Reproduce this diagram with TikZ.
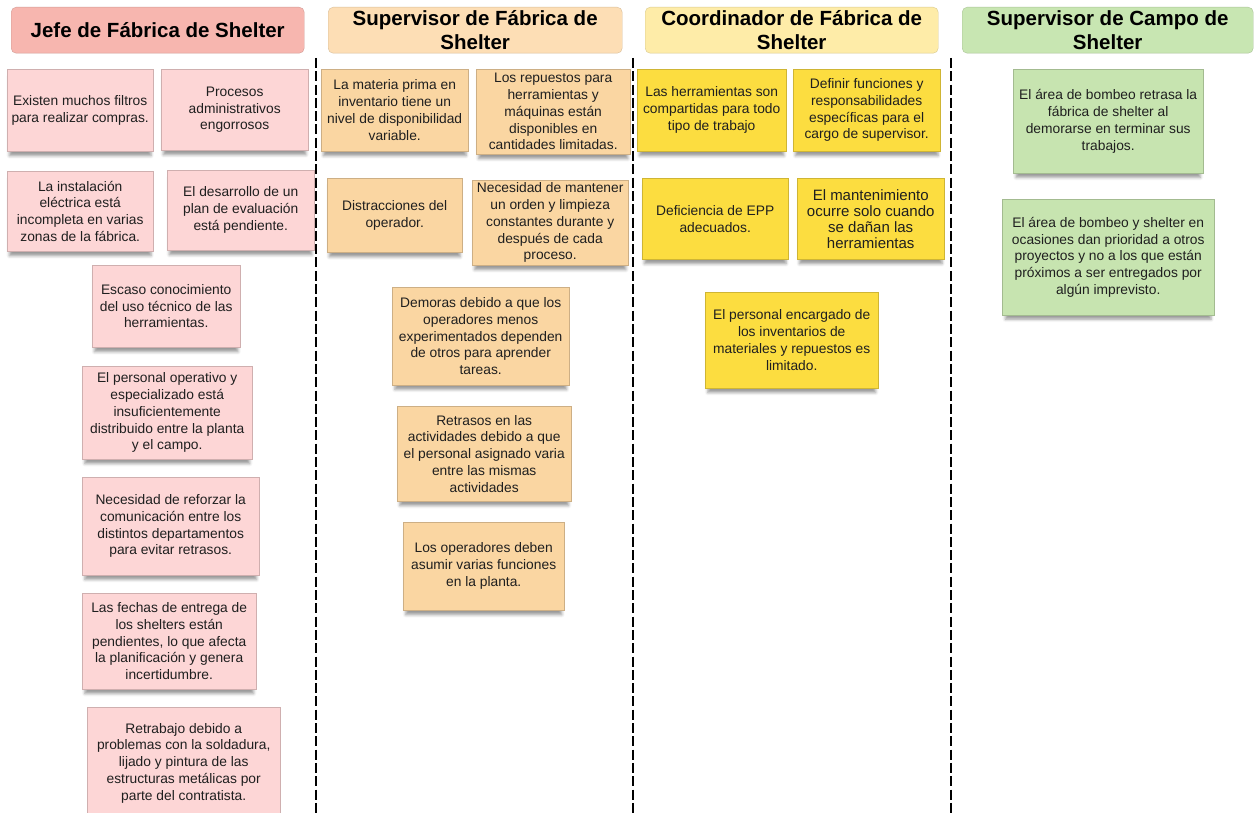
\documentclass[tikz,border=0pt]{standalone}
\usepackage{fontspec}
\setmainfont{Liberation Sans}
\usetikzlibrary{shadows.blur}

\definecolor{jefehead}{RGB}{247,182,175}
\definecolor{jefenote}{RGB}{253,214,214}
\definecolor{suphead}{RGB}{253,222,181}
\definecolor{supnote}{RGB}{250,214,162}
\definecolor{coorhead}{RGB}{254,236,168}
\definecolor{coornote}{RGB}{252,221,64}
\definecolor{campohead}{RGB}{200,230,178}
\definecolor{camponote}{RGB}{199,228,176}

\tikzset{
  sticky/.style={draw=#1!82!black, line width=0.4pt, fill=#1, anchor=north
    west, inner sep=0pt, align=center, text=black!88,
    font=\fontsize{13.8}{16.8}\selectfont, blur shadow={shadow xshift=0pt,
      shadow yshift=-6pt, shadow scale=0.97, shadow blur radius=3pt,
      shadow opacity=40}},
  header/.style={draw=#1!85!black, line width=0.4pt, fill=#1, anchor=north
    west, rounded corners=5pt, inner sep=0pt, align=center,
    font=\fontsize{20.5}{24.5}\selectfont\bfseries},
  lane/.style={line width=1.6pt, dash pattern=on 10pt off 3.3pt}
}

\begin{document}
\begin{tikzpicture}[x=1pt, y=-1pt]
    \useasboundingbox (0,0) rectangle (1254,813);%

    % Headers
    \node [header=jefehead, minimum width=293pt, minimum height=46pt] (H1)
    at (11,7) {Jefe de Fábrica de Shelter};%
    \node [header=suphead, minimum width=294pt, minimum height=46pt] (H2)
    at (328,7) {Supervisor de Fábrica de\\Shelter};%
    \node [header=coorhead, minimum width=293pt, minimum height=46pt] (H3)
    at (645,7) {Coordinador de Fábrica de\\Shelter};%
    \node [header=campohead, minimum width=291pt, minimum height=46pt] (H4)
    at (962,7) {Supervisor de Campo de\\Shelter};%

    % lanes
    \coordinate (L1top) at (316,58);%
    \coordinate (L1bot) at (316,813);%
    \coordinate (L2top) at (633,58);%
    \coordinate (L2bot) at (633,813);%
    \coordinate (L3top) at (951,58);%
    \coordinate (L3bot) at (951,813);%
    \draw [lane] (L1top) -- (L1bot);%
    \draw [lane] (L2top) -- (L2bot);%
    \draw [lane] (L3top) -- (L3bot);%

    % Jefe de Fabrica
    \node [sticky=jefenote, minimum width=146pt, minimum height=82pt] (J1)
    at (7,69) {Existen muchos filtros\\para realizar compras.};%
    \node [sticky=jefenote, minimum width=147pt, minimum height=81pt] (J2)
    at (161,69) {Procesos\\administrativos\\engorrosos};%
    \node [sticky=jefenote, minimum width=146pt, minimum height=80pt] (J3)
    at (7,171) {La instalación\\eléctrica está\\incompleta en varias\\zonas
      de la fábrica.};%
    \node [sticky=jefenote, minimum width=147pt, minimum height=80pt] (J4)
    at (167,170) {El desarrollo de un\\plan de evaluación\\está pendiente.};%
    \node [sticky=jefenote, minimum width=148pt, minimum height=82pt] (J5)
    at (92,265) {Escaso conocimiento\\del uso técnico de las\\herramientas.};%
    \node [sticky=jefenote, minimum width=170pt, minimum height=93pt] (J6)
    at (82,366) {El personal operativo y\\especializado está\\
      insuficientemente\\distribuido entre la planta\\y el campo.};%
    \node [sticky=jefenote, minimum width=177pt, minimum height=98pt] (J7)
    at (82,477) {Necesidad de reforzar la\\comunicación entre los\\distintos
      departamentos\\para evitar retrasos.};%
    \node [sticky=jefenote, minimum width=174pt, minimum height=96pt] (J8)
    at (82,593) {Las fechas de entrega de\\los shelters están\\pendientes,
      lo que afecta\\la planificación y genera\\incertidumbre.};%
    \node [sticky=jefenote, minimum width=193pt, minimum height=112pt] (J9)
    at (87,707) {Retrabajo debido a\\problemas con la soldadura,\\lijado y
      pintura de las\\estructuras metálicas por\\parte del contratista.};%

    % Supervisor de Fabrica
    \node [sticky=supnote, minimum width=147pt, minimum height=82pt] (S1)
    at (321,69) {La materia prima en\\inventario tiene un\\nivel de
      disponibilidad\\variable.};%
    \node [sticky=supnote, minimum width=154pt, minimum height=85pt] (S2)
    at (476,69) {Los repuestos para\\herramientas y\\máquinas están\\
      disponibles en\\cantidades limitadas.};%
    \node [sticky=supnote, minimum width=135pt, minimum height=74pt] (S3)
    at (327,178) {Distracciones del\\operador.};%
    \node [sticky=supnote, minimum width=156pt, minimum height=85pt] (S4)
    at (472,180) {Necesidad de mantener\\un orden y limpieza\\constantes
      durante y\\después de cada\\proceso.};%
    \node [sticky=supnote, minimum width=177pt, minimum height=98pt] (S5)
    at (392,287) {Demoras debido a que los\\operadores menos\\experimentados
      dependen\\de otros para aprender\\tareas.};%
    \node [sticky=supnote, minimum width=174pt, minimum height=95pt] (S6)
    at (397,406) {Retrasos en las\\actividades debido a que\\el personal
      asignado varia\\entre las mismas\\actividades};%
    \node [sticky=supnote, minimum width=161pt, minimum height=88pt] (S7)
    at (403,522) {Los operadores deben\\asumir varias funciones\\en la
      planta.};%

    % Coordinador de Fabrica
    \node [sticky=coornote, minimum width=149pt, minimum height=82pt] (C1)
    at (637,69) {Las herramientas son\\compartidas para todo\\tipo de
      trabajo};%
    \node [sticky=coornote, minimum width=147pt, minimum height=82pt] (C2)
    at (793,69) {Definir funciones y\\responsabilidades\\específicas para
      el\\cargo de supervisor.};%
    \node [sticky=coornote, minimum width=146pt, minimum height=81pt] (C3)
    at (642,178) {Deficiencia de EPP\\adecuados.};%
    \node [sticky=coornote, minimum width=147pt, minimum height=81pt,
    font=\fontsize{15}{16}\selectfont] (C4)
    at (797,178) {El mantenimiento\\ocurre solo cuando\\se dañan las\\
      herramientas};%
    \node [sticky=coornote, minimum width=173pt, minimum height=96pt] (C5)
    at (705,292) {El personal encargado de\\los inventarios de\\materiales y
      repuestos es\\limitado.};%

    % Supervisor de Campo
    \node [sticky=camponote, minimum width=190pt, minimum height=104pt] (F1)
    at (1013,69) {El área de bombeo retrasa la\\fábrica de shelter al\\
      demorarse en terminar sus\\trabajos.};%
    \node [sticky=camponote, minimum width=212pt, minimum height=116pt] (F2)
    at (1002,199) {El área de bombeo y shelter en\\ocasiones dan prioridad a
      otros\\proyectos y no a los que están\\próximos a ser entregados
      por\\algún imprevisto.};%
\end{tikzpicture}
\end{document}
